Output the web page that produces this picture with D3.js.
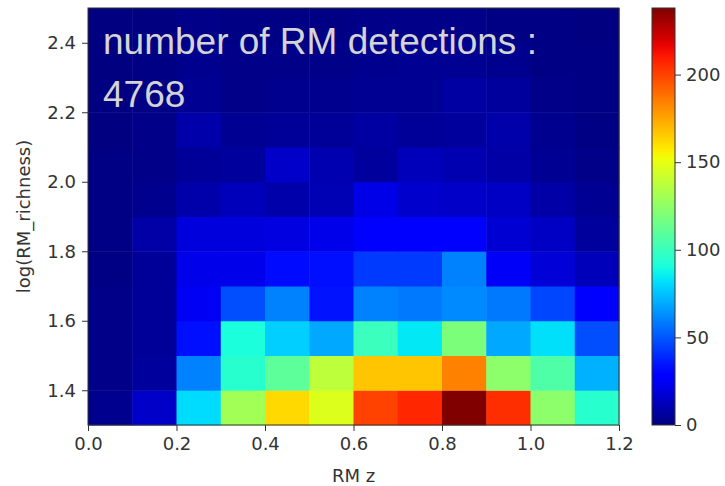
<!DOCTYPE html>
<html>
<head>
<meta charset="utf-8">
<script src="https://cdn.jsdelivr.net/npm/d3@7/dist/d3.min.js"></script>
<style>
  body { margin: 0; background: #fff; }
  text { font-family: "DejaVu Sans", sans-serif; }
</style>
</head>
<body>
<svg id="chart"></svg>
<script>
// bin edges (RM z on x, log(RM_richness) on y)
const zEdges = [0, 0.1, 0.2, 0.3, 0.4, 0.5, 0.6, 0.7, 0.8, 0.9, 1.0, 1.1, 1.2];
const richEdges = [1.3, 1.4, 1.5, 1.6, 1.7, 1.8, 1.9, 2.0, 2.1, 2.2, 2.3, 2.4, 2.5];

// counts per richness bin, bottom row first, one value per z bin
const counts = [
  [3, 15, 81, 130, 162, 147, 200, 207, 238, 205, 124, 95],   // 1.3-1.4
  [2, 6, 60, 95, 110, 138, 167, 167, 184, 124, 106, 71],     // 1.4-1.5
  [2, 5, 33, 91, 78, 69, 100, 84, 119, 69, 82, 48],          // 1.5-1.6
  [2, 5, 24, 48, 60, 34, 60, 58, 62, 58, 46, 29],            // 1.6-1.7
  [1, 5, 22, 22, 32, 33, 43, 43, 60, 25, 18, 12],            // 1.7-1.8
  [1, 8, 19, 19, 20, 22, 28, 28, 27, 17, 14, 6],             // 1.8-1.9
  [1, 3, 9, 12, 9, 11, 21, 16, 15, 14, 8, 4],                // 1.9-2.0
  [1, 2, 5, 6, 15, 10, 6, 12, 10, 8, 4, 2],                  // 2.0-2.1
  [0, 2, 9, 4, 5, 5, 7, 5, 6, 9, 3, 1],                      // 2.1-2.2
  [0, 1, 4, 2, 3, 3, 4, 4, 7, 6, 2, 1],                      // 2.2-2.3
  [0, 1, 3, 2, 2, 2, 3, 4, 4, 3, 1, 1],                      // 2.3-2.4
  [0, 0, 2, 1, 1, 1, 2, 2, 2, 1, 1, 0]                       // 2.4-2.5
];

const xTicks = [0, 0.2, 0.4, 0.6, 0.8, 1.0, 1.2];
const yTicks = [1.4, 1.6, 1.8, 2.0, 2.2, 2.4];
const cbTicks = [0, 50, 100, 150, 200];
const nDetections = 4768;

const width = 725, height = 486;
const margin = { top: 8, left: 88, right: 106, bottom: 61 };
const iwidth = 619 - margin.left;
const iheight = 425 - margin.top;

// matplotlib "jet"
const jetR = d3.scaleLinear().domain([0, 0.35, 0.66, 0.89, 1]).range([0, 0, 1, 1, 0.5]).clamp(true);
const jetG = d3.scaleLinear().domain([0, 0.125, 0.375, 0.64, 0.91, 1]).range([0, 0, 1, 1, 0, 0]).clamp(true);
const jetB = d3.scaleLinear().domain([0, 0.11, 0.34, 0.65, 1]).range([0.5, 1, 1, 0, 0]).clamp(true);
const jet = t => d3.rgb(jetR(t) * 255, jetG(t) * 255, jetB(t) * 255).toString();

const vmax = d3.max(counts.flat());
const color = d3.scaleSequential(jet).domain([0, vmax]);

const svg = d3.select("#chart").attr("width", width).attr("height", height);
const g = svg.append("g").attr("transform", `translate(${margin.left},${margin.top})`);

const x = d3.scaleLinear().domain([zEdges[0], zEdges[zEdges.length - 1]]).range([0, iwidth]);
const y = d3.scaleLinear().domain([richEdges[0], richEdges[richEdges.length - 1]]).range([iheight, 0]);

const cells = [];
counts.forEach((row, j) => row.forEach((v, i) => cells.push({ i, j, v })));

g.selectAll("rect.cell").data(cells).enter().append("rect")
  .attr("class", "cell")
  .attr("x", d => x(zEdges[d.i]))
  .attr("y", d => y(richEdges[d.j + 1]))
  .attr("width", d => x(zEdges[d.i + 1]) - x(zEdges[d.i]) + 0.5)
  .attr("height", d => y(richEdges[d.j]) - y(richEdges[d.j + 1]) + 0.5)
  .attr("fill", d => color(d.v));

// overlay text
const note = g.append("text")
  .attr("x", 15)
  .attr("fill", "#d4d4d4")
  .style("font-family", "'Liberation Sans', Arial, sans-serif")
  .style("font-size", "37px");
note.append("tspan").attr("x", 15).attr("y", 46).text("number of RM detections :");
note.append("tspan").attr("x", 15).attr("y", 99).text(nDetections);

// axes
const xAxis = g.append("g")
  .attr("transform", `translate(0,${iheight})`)
  .call(d3.axisBottom(x).tickValues(xTicks).tickFormat(d3.format(".1f")).tickSizeOuter(0).tickSize(6).tickPadding(6));
const yAxis = g.append("g")
  .call(d3.axisLeft(y).tickValues(yTicks).tickFormat(d3.format(".1f")).tickSizeOuter(0).tickSize(6).tickPadding(6));
[xAxis, yAxis].forEach(a => {
  a.select(".domain").remove();
  a.selectAll("line").attr("stroke", "#333");
  a.selectAll("text").attr("fill", "#333").style("font-size", "18px").style("font-family", "'DejaVu Sans', sans-serif");
});

g.append("rect")
  .attr("width", iwidth).attr("height", iheight)
  .attr("fill", "none").attr("stroke", "#333").attr("stroke-width", 1);

svg.append("text")
  .attr("text-anchor", "middle")
  .attr("transform", `translate(${margin.left + iwidth / 2},482)`)
  .attr("fill", "#333")
  .style("font-size", "18px")
  .text("RM z");

svg.append("text")
  .attr("text-anchor", "middle")
  .attr("transform", `translate(30,${margin.top + iheight / 2})rotate(-90)`)
  .attr("fill", "#333")
  .style("font-size", "18px")
  .text("log(RM_richness)");

// colorbar
const cbX = 652, cbW = 23;
const cb = svg.append("g").attr("transform", `translate(${cbX},${margin.top})`);
const cy = d3.scaleLinear().domain([0, vmax]).range([iheight, 0]);

const defs = svg.append("defs");
const grad = defs.append("linearGradient").attr("id", "jetgrad")
  .attr("x1", 0).attr("y1", 1).attr("x2", 0).attr("y2", 0);
d3.range(0, 1.0001, 0.02).forEach(t => {
  grad.append("stop").attr("offset", t).attr("stop-color", jet(t));
});
cb.append("rect").attr("width", cbW).attr("height", iheight).attr("fill", "url(#jetgrad)")
  .attr("stroke", "#333").attr("stroke-width", 1);

const cbAxis = cb.append("g")
  .attr("transform", `translate(${cbW},0)`)
  .call(d3.axisRight(cy).tickValues(cbTicks).tickSize(6).tickPadding(5).tickSizeOuter(0));
cbAxis.select(".domain").remove();
cbAxis.selectAll("line").attr("stroke", "#333");
cbAxis.selectAll("text").attr("fill", "#333").style("font-size", "18px").style("font-family", "'DejaVu Sans', sans-serif");
</script>
</body>
</html>
